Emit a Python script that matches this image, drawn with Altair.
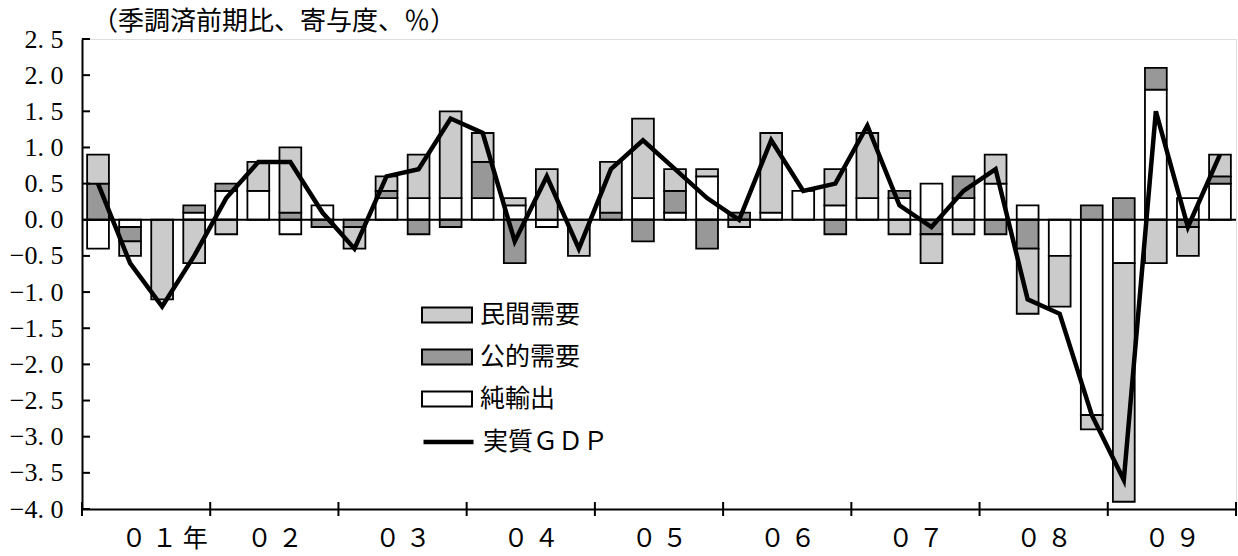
import json
import altair as alt
import pandas as pd

# ---- data (2001Q1 .. 2009Q4), contributions in % points ----
private = [0.4, -0.2, -1.1, -0.6, -0.2, 0.4, 0.9, 0.0, -0.3, 0.2, 0.6, 1.2,
           0.4, 0.1, 0.7, -0.5, 0.7, 1.1, 0.3, 0.1, -0.1, 1.1, 0.0, 0.5,
           0.9, -0.2, -0.4, -0.2, 0.4, -0.9, -0.7, -0.2, -3.3, -0.6, -0.4, 0.3]
public = [0.5, -0.2, 0.0, 0.1, 0.1, 0.0, 0.1, -0.1, -0.1, 0.1, -0.2, -0.1,
          0.5, -0.6, 0.0, 0.0, 0.1, -0.3, 0.3, -0.4, 0.1, 0.0, 0.0, -0.2,
          0.0, 0.1, -0.2, 0.3, -0.2, -0.4, 0.0, 0.2, 0.3, 0.3, -0.1, 0.1]
net_exports = [-0.4, -0.1, 0.0, 0.1, 0.4, 0.4, -0.2, 0.2, 0.0, 0.3, 0.3, 0.3,
               0.3, 0.2, -0.1, 0.0, 0.0, 0.3, 0.1, 0.6, 0.0, 0.1, 0.4, 0.2,
               0.3, 0.3, 0.5, 0.3, 0.5, 0.2, -0.5, -2.7, -0.6, 1.8, 0.3, 0.5]
real_gdp = [0.5, -0.6, -1.2, -0.5, 0.3, 0.8, 0.8, 0.1, -0.4, 0.6, 0.7, 1.4,
            1.2, -0.3, 0.6, -0.4, 0.7, 1.1, 0.7, 0.3, 0.0, 1.1, 0.4, 0.5,
            1.3, 0.2, -0.1, 0.4, 0.7, -1.1, -1.3, -2.7, -3.6, 1.5, -0.1, 0.9]

series_names = ["民間需要", "公的需要", "純輸出"]
line_name = "実質ＧＤＰ"
year_labels = ["０ １ 年", "０ ２", "０ ３", "０ ４", "０ ５",
               "０ ６", "０ ７", "０ ８", "０ ９"]
y_ticks = [-4.0, -3.5, -3.0, -2.5, -2.0, -1.5, -1.0, -0.5, 0.0,
           0.5, 1.0, 1.5, 2.0, 2.5]
title_text = "（季調済前期比、寄与度、％）"

n = len(real_gdp)

# ---- build stacked segments (net exports nearest zero, then public, then private)
rows = []
for i in range(n):
    pos, neg = 0.0, 0.0
    for name, vals in [("純輸出", net_exports), ("公的需要", public), ("民間需要", private)]:
        v = vals[i]
        if abs(v) < 1e-9:
            continue
        if v > 0:
            y0, y1 = pos, pos + v
            pos += v
        else:
            y0, y1 = neg, neg + v
            neg += v
        rows.append({"x0": i + 0.16, "x1": i + 0.84,
                     "y0": round(y0, 3), "y1": round(y1, 3), "comp": name})
bars_df = pd.DataFrame(rows)
line_df = pd.DataFrame({"xc": [i + 0.5 for i in range(n)], "gdp": real_gdp,
                        "series": [line_name] * n})
xticks_df = pd.DataFrame({"xb": list(range(0, n + 1, 4))})
yticks_df = pd.DataFrame({"yt": y_ticks})
zero_df = pd.DataFrame({"z": [0.0]})
title_df = pd.DataFrame({"t": [title_text]})

CJK = "Noto Sans CJK JP"
W, H = 1154, 470

xscale = alt.Scale(domain=[0, n], nice=False, zero=False)
yscale = alt.Scale(domain=[-4.0, 2.5], nice=False, zero=False)

# label positions: year centres; the first one is nudged so that its digits
# (not the trailing 年) sit under the centre of 2001
label_vals = [2.56] + [4 * k + 2 for k in range(1, 9)]
label_js = json.dumps(year_labels)
ax_x = alt.Axis(values=label_vals,
                labelExpr=f"{label_js}[floor(datum.value / 4)]",
                ticks=False, grid=False, title=None, labelFont=CJK, labelFontSize=25,
                labelPadding=17, labelOverlap=False, labelFlush=False,
                labelColor="black", domainColor="black", domainWidth=2)
ax_y = alt.Axis(values=y_ticks,
                labelExpr="replace(format(datum.value, '.1f'), '.', '. ')",
                ticks=False, grid=False, title=None, labelFont="Liberation Serif",
                labelFontSize=26, labelPadding=19, labelOverlap=False,
                labelColor="black", domainColor="black", domainWidth=2)

bars = alt.Chart(bars_df).mark_bar(stroke="black", strokeWidth=1.8).encode(
    x=alt.X("x0:Q", scale=xscale, axis=ax_x),
    x2="x1:Q",
    y=alt.Y("y0:Q", scale=yscale, axis=ax_y),
    y2="y1:Q",
    fill=alt.Fill("comp:N",
                  scale=alt.Scale(domain=series_names,
                                  range=["#cbcbcb", "#989898", "#ffffff"]),
                  legend=alt.Legend(title=None, orient="none", legendX=339, legendY=261,
                                    symbolType="M-1,-0.3H1V0.3H-1Z", symbolSize=2500,
                                    symbolStrokeColor="black", symbolStrokeWidth=2,
                                    symbolOpacity=1, labelFont=CJK, labelFontSize=25,
                                    labelColor="black", labelOffset=7, rowPadding=12,
                                    clipHeight=30, padding=0)),
)

zero = alt.Chart(zero_df).mark_rule(color="black", strokeWidth=2).encode(
    y=alt.Y("z:Q", scale=yscale, axis=ax_y))

line = alt.Chart(line_df).mark_line(strokeWidth=4.5, strokeJoin="miter").encode(
    x=alt.X("xc:Q", scale=xscale, axis=ax_x),
    y=alt.Y("gdp:Q", scale=yscale, axis=ax_y),
    stroke=alt.Stroke("series:N", scale=alt.Scale(domain=[line_name], range=["black"]),
                      legend=alt.Legend(title=None, orient="none", legendX=339, legendY=388,
                                        symbolType="stroke", symbolSize=2500,
                                        symbolStrokeWidth=4.5, labelFont=CJK,
                                        labelFontSize=25, labelColor="black",
                                        labelOffset=7, clipHeight=30, padding=0)),
)

xticks = alt.Chart(xticks_df).mark_rule(color="black", strokeWidth=2).encode(
    x=alt.X("xb:Q", scale=xscale, axis=ax_x),
    y=alt.value(H - 7), y2=alt.value(H + 7))

yticks = alt.Chart(yticks_df).mark_rule(color="black", strokeWidth=2).encode(
    y=alt.Y("yt:Q", scale=yscale, axis=ax_y),
    x=alt.value(0), x2=alt.value(8))

title = alt.Chart(title_df).mark_text(
    align="left", baseline="alphabetic", font=CJK, fontSize=26, color="black"
).encode(x=alt.value(10), y=alt.value(-9), text="t:N")

chart = alt.layer(bars, zero, line, xticks, yticks, title).properties(
    width=W, height=H,
    padding={"left": 82, "top": 39, "right": 2, "bottom": 47},
    autosize=alt.AutoSizeParams(type="none"),
).resolve_legend(fill="independent", stroke="independent").configure_view(
    stroke="black", strokeWidth=2
).configure(background="white")

chart.save("out.html", embed_options={"renderer": "svg", "actions": False})
